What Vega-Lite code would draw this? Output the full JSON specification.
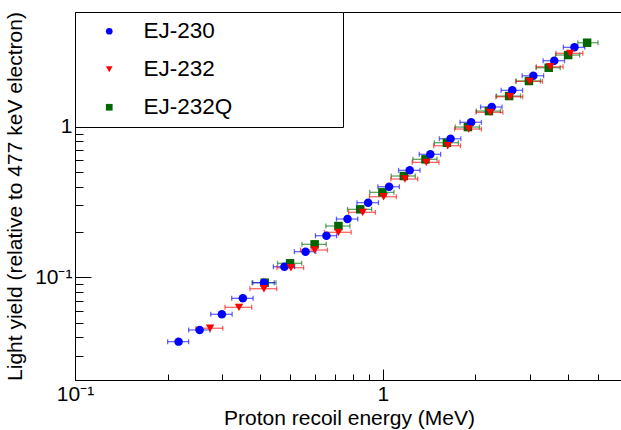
{
  "$schema": "https://vega.github.io/schema/vega-lite/v6.json",
  "width": 546,
  "height": 368,
  "autosize": {"type": "none"},
  "padding": {"left": 75, "top": 12, "right": 0, "bottom": 50},
  "background": "white",
  "config": {
    "font": "Liberation Sans",
    "view": {"stroke": "black", "strokeWidth": 1},
    "axis": {"grid": false, "domainColor": "black", "tickColor": "black", "labelColor": "black", "titleColor": "black", "titleFontWeight": "normal", "labelFontSize": 21, "titleFontSize": 21, "labelOverlap": false, "labelFlush": false, "labelBound": false}
  },
  "data": {"values": [
    {"series": "EJ-232Q", "x": 0.4133, "xlo": 0.376, "xhi": 0.45, "y": 0.0921},
    {"series": "EJ-232Q", "x": 0.4997, "xlo": 0.455, "xhi": 0.545, "y": 0.1239},
    {"series": "EJ-232Q", "x": 0.6005, "xlo": 0.546, "xhi": 0.655, "y": 0.1656},
    {"series": "EJ-232Q", "x": 0.7174, "xlo": 0.653, "xhi": 0.782, "y": 0.2191},
    {"series": "EJ-232Q", "x": 0.8444, "xlo": 0.768, "xhi": 0.92, "y": 0.2828},
    {"series": "EJ-232Q", "x": 0.997, "xlo": 0.907, "xhi": 1.087, "y": 0.3667},
    {"series": "EJ-232Q", "x": 1.17, "xlo": 1.065, "xhi": 1.275, "y": 0.4707},
    {"series": "EJ-232Q", "x": 1.376, "xlo": 1.252, "xhi": 1.5, "y": 0.6075},
    {"series": "EJ-232Q", "x": 1.615, "xlo": 1.47, "xhi": 1.76, "y": 0.7829},
    {"series": "EJ-232Q", "x": 1.89, "xlo": 1.72, "xhi": 2.06, "y": 0.995},
    {"series": "EJ-232Q", "x": 2.212, "xlo": 2.013, "xhi": 2.411, "y": 1.271},
    {"series": "EJ-232Q", "x": 2.572, "xlo": 2.341, "xhi": 2.803, "y": 1.599},
    {"series": "EJ-232Q", "x": 2.983, "xlo": 2.715, "xhi": 3.251, "y": 2.012},
    {"series": "EJ-232Q", "x": 3.459, "xlo": 3.148, "xhi": 3.77, "y": 2.465},
    {"series": "EJ-232Q", "x": 4.0, "xlo": 3.64, "xhi": 4.36, "y": 2.993},
    {"series": "EJ-232Q", "x": 4.61, "xlo": 4.3, "xhi": 5.0, "y": 3.613},
    {"series": "EJ-230", "x": 0.217, "xlo": 0.2, "xhi": 0.234, "y": 0.0374},
    {"series": "EJ-230", "x": 0.254, "xlo": 0.234, "xhi": 0.274, "y": 0.0447},
    {"series": "EJ-230", "x": 0.3, "xlo": 0.276, "xhi": 0.324, "y": 0.0568},
    {"series": "EJ-230", "x": 0.351, "xlo": 0.323, "xhi": 0.379, "y": 0.0725},
    {"series": "EJ-230", "x": 0.411, "xlo": 0.378, "xhi": 0.444, "y": 0.0921},
    {"series": "EJ-230", "x": 0.479, "xlo": 0.441, "xhi": 0.517, "y": 0.1176},
    {"series": "EJ-230", "x": 0.561, "xlo": 0.516, "xhi": 0.606, "y": 0.148},
    {"series": "EJ-230", "x": 0.656, "xlo": 0.604, "xhi": 0.708, "y": 0.1889},
    {"series": "EJ-230", "x": 0.768, "xlo": 0.707, "xhi": 0.829, "y": 0.2438},
    {"series": "EJ-230", "x": 0.896, "xlo": 0.824, "xhi": 0.968, "y": 0.313},
    {"series": "EJ-230", "x": 1.048, "xlo": 0.964, "xhi": 1.132, "y": 0.3995},
    {"series": "EJ-230", "x": 1.223, "xlo": 1.125, "xhi": 1.321, "y": 0.5134},
    {"series": "EJ-230", "x": 1.427, "xlo": 1.313, "xhi": 1.541, "y": 0.656},
    {"series": "EJ-230", "x": 1.66, "xlo": 1.527, "xhi": 1.793, "y": 0.8323},
    {"series": "EJ-230", "x": 1.936, "xlo": 1.781, "xhi": 2.091, "y": 1.07},
    {"series": "EJ-230", "x": 2.259, "xlo": 2.078, "xhi": 2.44, "y": 1.352},
    {"series": "EJ-230", "x": 2.634, "xlo": 2.423, "xhi": 2.845, "y": 1.745},
    {"series": "EJ-230", "x": 3.083, "xlo": 2.836, "xhi": 3.33, "y": 2.181},
    {"series": "EJ-230", "x": 3.605, "xlo": 3.317, "xhi": 3.893, "y": 2.744},
    {"series": "EJ-230", "x": 4.194, "xlo": 3.858, "xhi": 4.53, "y": 3.367},
    {"series": "EJ-232", "x": 0.2748, "xlo": 0.247, "xhi": 0.302, "y": 0.0459},
    {"series": "EJ-232", "x": 0.341, "xlo": 0.307, "xhi": 0.375, "y": 0.0632},
    {"series": "EJ-232", "x": 0.411, "xlo": 0.37, "xhi": 0.452, "y": 0.084},
    {"series": "EJ-232", "x": 0.503, "xlo": 0.453, "xhi": 0.553, "y": 0.1158},
    {"series": "EJ-232", "x": 0.6005, "xlo": 0.54, "xhi": 0.661, "y": 0.1518},
    {"series": "EJ-232", "x": 0.7174, "xlo": 0.646, "xhi": 0.789, "y": 0.199},
    {"series": "EJ-232", "x": 0.86, "xlo": 0.774, "xhi": 0.946, "y": 0.2702},
    {"series": "EJ-232", "x": 1.006, "xlo": 0.905, "xhi": 1.107, "y": 0.3429},
    {"series": "EJ-232", "x": 1.18, "xlo": 1.062, "xhi": 1.298, "y": 0.4495},
    {"series": "EJ-232", "x": 1.384, "xlo": 1.246, "xhi": 1.522, "y": 0.5801},
    {"series": "EJ-232", "x": 1.625, "xlo": 1.463, "xhi": 1.788, "y": 0.7478},
    {"series": "EJ-232", "x": 1.901, "xlo": 1.711, "xhi": 2.091, "y": 0.9654},
    {"series": "EJ-232", "x": 2.232, "xlo": 2.009, "xhi": 2.455, "y": 1.246},
    {"series": "EJ-232", "x": 2.588, "xlo": 2.329, "xhi": 2.847, "y": 1.582},
    {"series": "EJ-232", "x": 3.0, "xlo": 2.7, "xhi": 3.3, "y": 2.002},
    {"series": "EJ-232", "x": 3.501, "xlo": 3.151, "xhi": 3.851, "y": 2.502},
    {"series": "EJ-232", "x": 4.06, "xlo": 3.654, "xhi": 4.466, "y": 3.072}
  ]},
  "encoding": {
    "y": {"field": "y", "type": "quantitative", "scale": {"type": "log", "domain": [0.0208, 5.78], "nice": false},
      "axis": {
        "title": "Light yield (relative to 477 keV electron)",
        "values": [0.03, 0.04, 0.05, 0.06, 0.07, 0.08, 0.09, 0.1, 0.2, 0.3, 0.4, 0.5, 0.6, 0.7, 0.8, 0.9, 1, 2, 3, 4, 5],
        "labelExpr": "datum.value == 0.1 ? '10⁻¹' : (datum.value == 1 ? '1' : '')",
        "tickSize": {"condition": {"test": "datum.value == 0.1 || datum.value == 1", "value": -16}, "value": -8},
        "labelAlign": "right", "labelBaseline": "middle",
        "labelPadding": 19,
        "titleAngle": 270, "titleX": -54, "titleY": 184, "titleAlign": "center", "titleBaseline": "alphabetic"
      }},
    "color": {"field": "series", "type": "nominal", "scale": {"domain": ["EJ-230", "EJ-232", "EJ-232Q"], "range": ["#0000ff", "#ff0000", "#006600"]},
      "legend": {"orient": "none", "legendX": 0, "legendY": 0, "title": " ", "titleOrient": "right", "titleFontSize": 1, "titlePadding": 103,
        "strokeColor": "black", "fillColor": "white", "padding": 8, "labelFontSize": 22.5, "labelColor": "black", "labelFont": "Liberation Sans",
        "symbolSize": 45, "symbolOffset": 15, "labelOffset": 23, "rowPadding": 15, "symbolStrokeWidth": 0, "symbolOpacity": 1}}
  },
  "layer": [
    {
      "mark": {"type": "rule", "strokeWidth": 1.3, "opacity": 0.6},
      "encoding": {
        "x": {"field": "xlo", "type": "quantitative", "scale": {"type": "log", "domain": [0.1, 5.94], "nice": false},
          "axis": {
            "title": "Proton recoil energy (MeV)",
            "values": [0.1, 0.2, 0.3, 0.4, 0.5, 0.6, 0.7, 0.8, 0.9, 1, 2, 3, 4, 5],
            "labelExpr": "datum.value == 0.1 ? '10⁻¹' : (datum.value == 1 ? '1' : '')",
            "tickSize": {"condition": {"test": "datum.value == 0.1 || datum.value == 1", "value": -11}, "value": -6},
            "labelBaseline": "alphabetic",
            "labelPadding": 31,
            "titleX": 274, "titleY": 44, "titleAlign": "center", "titleBaseline": "alphabetic"
          }},
        "x2": {"field": "xhi"}
      }
    },
    {
      "mark": {"type": "tick", "orient": "vertical", "size": 5, "thickness": 1.3, "opacity": 0.6},
      "encoding": {
        "x": {"field": "xlo", "type": "quantitative",
          "axis": {
            "title": "Proton recoil energy (MeV)",
            "values": [0.1, 0.2, 0.3, 0.4, 0.5, 0.6, 0.7, 0.8, 0.9, 1, 2, 3, 4, 5],
            "labelExpr": "datum.value == 0.1 ? '10⁻¹' : (datum.value == 1 ? '1' : '')",
            "tickSize": {"condition": {"test": "datum.value == 0.1 || datum.value == 1", "value": -11}, "value": -6},
            "labelBaseline": "alphabetic",
            "labelPadding": 31,
            "titleX": 274, "titleY": 44, "titleAlign": "center", "titleBaseline": "alphabetic"
          }}
      }
    },
    {
      "mark": {"type": "tick", "orient": "vertical", "size": 5, "thickness": 1.3, "opacity": 0.6},
      "encoding": {
        "x": {"field": "xhi", "type": "quantitative",
          "axis": {
            "title": "Proton recoil energy (MeV)",
            "values": [0.1, 0.2, 0.3, 0.4, 0.5, 0.6, 0.7, 0.8, 0.9, 1, 2, 3, 4, 5],
            "labelExpr": "datum.value == 0.1 ? '10⁻¹' : (datum.value == 1 ? '1' : '')",
            "tickSize": {"condition": {"test": "datum.value == 0.1 || datum.value == 1", "value": -11}, "value": -6},
            "labelBaseline": "alphabetic",
            "labelPadding": 31,
            "titleX": 274, "titleY": 44, "titleAlign": "center", "titleBaseline": "alphabetic"
          }}
      }
    },
    {
      "mark": {"type": "point", "filled": true, "opacity": 1, "size": 72, "strokeWidth": 0},
      "encoding": {
        "x": {"field": "x", "type": "quantitative",
          "axis": {
            "title": "Proton recoil energy (MeV)",
            "values": [0.1, 0.2, 0.3, 0.4, 0.5, 0.6, 0.7, 0.8, 0.9, 1, 2, 3, 4, 5],
            "labelExpr": "datum.value == 0.1 ? '10⁻¹' : (datum.value == 1 ? '1' : '')",
            "tickSize": {"condition": {"test": "datum.value == 0.1 || datum.value == 1", "value": -11}, "value": -6},
            "labelBaseline": "alphabetic",
            "labelPadding": 31,
            "titleX": 274, "titleY": 44, "titleAlign": "center", "titleBaseline": "alphabetic"
          }},
        "shape": {"field": "series", "type": "nominal", "scale": {"domain": ["EJ-230", "EJ-232", "EJ-232Q"], "range": ["circle", "triangle-down", "square"]},
          "legend": {"orient": "none", "legendX": 0, "legendY": 0, "title": " ", "titleOrient": "right", "titleFontSize": 1, "titlePadding": 103,
            "strokeColor": "black", "fillColor": "white", "padding": 8, "labelFontSize": 22.5, "labelColor": "black", "labelFont": "Liberation Sans",
            "symbolSize": 45, "symbolOffset": 15, "labelOffset": 23, "rowPadding": 15, "symbolStrokeWidth": 0, "symbolOpacity": 1}}
      }
    }
  ]
}
